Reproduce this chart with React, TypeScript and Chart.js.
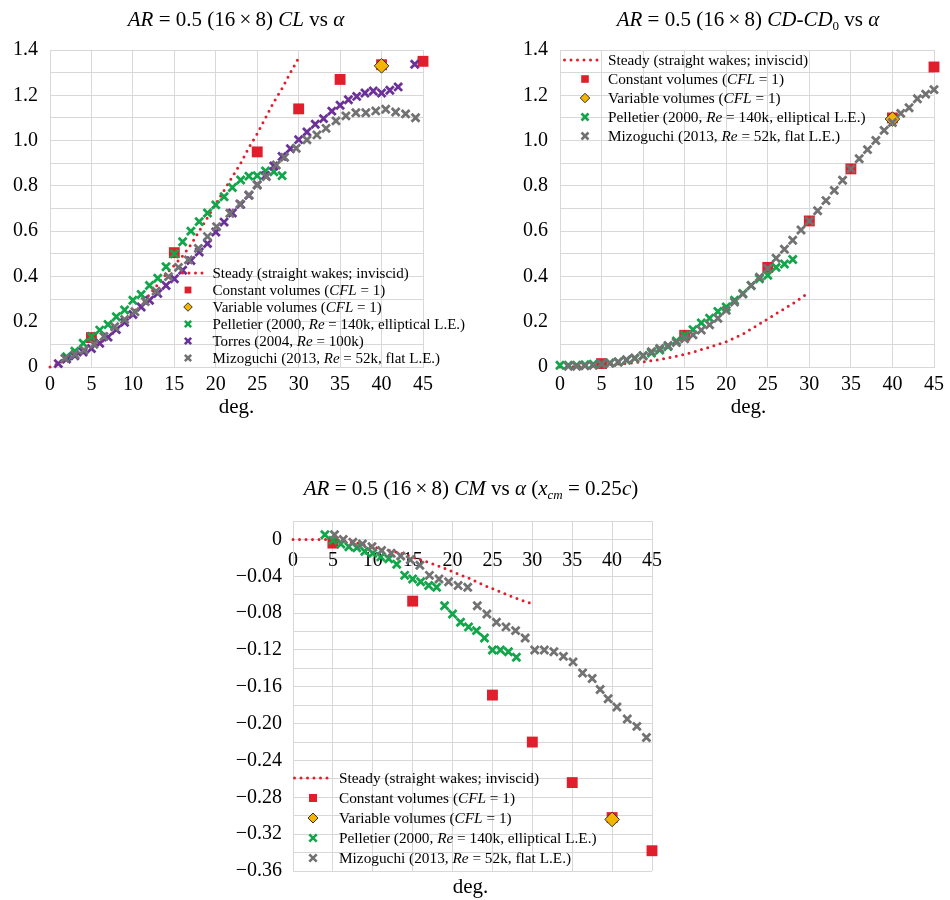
import React, { useEffect, useRef } from 'react';
import { Chart, registerables } from 'chart.js';
Chart.register(...registerables);

const FONT = '"Liberation Serif", "Times New Roman", Times, serif';
const RED = '#e11f2c';
const GREEN = '#12a64a';
const PURPLE = '#6b3198';
const GRAY = '#727272';
const YELLOW = '#f4b400';
const GRID = '#d8d8d8';

// ---------- shared x axis ----------
const X_TICK_VALS = [0, 5, 10, 15, 20, 25, 30, 35, 40, 45];
const X_TICK_TEXTS = ['0', '5', '10', '15', '20', '25', '30', '35', '40', '45'];

// ---------- CL vs alpha ----------
const CL_Y_VALS = [0, 0.2, 0.4, 0.6, 0.8, 1.0, 1.2, 1.4];
const CL_Y_TEXTS = ['0', '0.2', '0.4', '0.6', '0.8', '1.0', '1.2', '1.4'];
const CL_STEADY_A = [0, 1, 2, 3, 4, 5, 6, 7, 8, 9, 10, 11, 12, 13, 14, 15, 16, 17, 18, 19, 20, 21, 22, 23, 24, 25, 26, 27, 28, 29, 30];
const CL_STEADY = [0, 0.015, 0.03, 0.05, 0.065, 0.085, 0.105, 0.13, 0.165, 0.2, 0.24, 0.28, 0.32, 0.365, 0.41, 0.45, 0.49, 0.54, 0.6, 0.66, 0.72, 0.78, 0.84, 0.9, 0.97, 1.03, 1.1, 1.17, 1.23, 1.3, 1.365];
const CL_CONST_A = [5, 15, 25, 30, 35, 40, 45];
const CL_CONST = [0.13, 0.505, 0.95, 1.14, 1.27, 1.335, 1.35];
const CL_VAR_A = [40];
const CL_VAR = [1.33];
const CL_PELL_A = [2, 3, 4, 5, 6, 7, 8, 9, 10, 11, 12, 13, 14, 15, 16, 17, 18, 19, 20, 21, 22, 23, 24, 25, 26, 27, 28];
const CL_PELL = [0.045, 0.07, 0.105, 0.135, 0.163, 0.188, 0.222, 0.252, 0.295, 0.32, 0.36, 0.392, 0.443, 0.5, 0.553, 0.6, 0.642, 0.68, 0.716, 0.752, 0.793, 0.826, 0.843, 0.845, 0.866, 0.862, 0.845];
const CL_TORR_A = [1, 2, 3, 4, 5, 6, 7, 8, 9, 10, 11, 12, 13, 14, 15, 16, 17, 18, 19, 20, 21, 22, 23, 24, 25, 26, 27, 28, 29, 30, 31, 32, 33, 34, 35, 36, 37, 38, 39, 40, 41, 42, 44];
const CL_TORR = [0.015, 0.035, 0.05, 0.066, 0.082, 0.105, 0.132, 0.165, 0.197, 0.232, 0.265, 0.295, 0.325, 0.36, 0.39, 0.427, 0.47, 0.508, 0.545, 0.596, 0.64, 0.68, 0.718, 0.758, 0.805, 0.846, 0.888, 0.93, 0.964, 1.004, 1.038, 1.072, 1.097, 1.13, 1.156, 1.18, 1.195, 1.21, 1.219, 1.21, 1.222, 1.237, 1.337];
const CL_MIZO_A = [1.8, 3.0, 4.1, 5.3, 6.5, 7.8, 9.0, 10.25, 11.5, 12.8, 14.3, 15.5, 16.7, 17.9, 19.0, 20.1, 21.7, 22.9, 24.0, 25.0, 26.1, 27.3, 28.3, 29.7, 31.0, 32.2, 33.3, 34.5, 35.7, 36.9, 38.1, 39.3, 40.5, 41.7, 42.9, 44.1];
const CL_MIZO = [0.038, 0.055, 0.075, 0.1, 0.135, 0.178, 0.21, 0.244, 0.289, 0.335, 0.399, 0.44, 0.473, 0.524, 0.576, 0.62, 0.679, 0.72, 0.76, 0.804, 0.841, 0.892, 0.926, 0.966, 1.003, 1.025, 1.054, 1.087, 1.109, 1.123, 1.123, 1.131, 1.138, 1.126, 1.118, 1.101];

// ---------- CD-CD0 vs alpha ----------
const CD_Y_VALS = CL_Y_VALS;
const CD_Y_TEXTS = CL_Y_TEXTS;
const CD_STEADY_A = [0, 2, 4, 6, 8, 10, 12, 14, 16, 18, 20, 22, 24, 26, 28, 30];
const CD_STEADY = [0, 0.002, 0.005, 0.01, 0.016, 0.023, 0.033, 0.048, 0.065, 0.088, 0.112, 0.145, 0.19, 0.235, 0.28, 0.33];
const CD_CONST_A = [5, 15, 25, 30, 35, 40, 45];
const CD_CONST = [0.015, 0.14, 0.44, 0.645, 0.875, 1.1, 1.325];
const CD_VAR_A = [40];
const CD_VAR = [1.095];
const CD_PELL_A = [0, 1, 2, 3, 4, 5, 6, 7, 8, 9, 10, 11, 12, 13, 14, 15, 16, 17, 18, 19, 20, 21, 22, 23, 24, 25, 26, 27, 28];
const CD_PELL = [0.008, 0.008, 0.008, 0.01, 0.012, 0.015, 0.018, 0.022, 0.03, 0.038, 0.05, 0.062, 0.075, 0.09, 0.115, 0.14, 0.165, 0.195, 0.215, 0.245, 0.265, 0.295, 0.325, 0.36, 0.39, 0.405, 0.44, 0.455, 0.475];
const CD_MIZO_A = [1, 2, 3, 4, 5, 6, 7, 8, 9, 10, 11, 12, 13, 14, 15, 16, 17, 18, 19, 20, 21, 22, 23, 24, 25, 26, 27, 28, 29, 30, 31, 32, 33, 34, 35, 36, 37, 38, 39, 40, 41, 42, 43, 44, 45];
const CD_MIZO = [0.003, 0.003, 0.005, 0.007, 0.012, 0.016, 0.022, 0.032, 0.04, 0.05, 0.068, 0.082, 0.095, 0.108, 0.125, 0.142, 0.163, 0.186, 0.215, 0.25, 0.287, 0.322, 0.36, 0.397, 0.435, 0.48, 0.52, 0.56, 0.605, 0.645, 0.69, 0.735, 0.78, 0.825, 0.875, 0.92, 0.96, 1.0, 1.045, 1.08, 1.12, 1.145, 1.185, 1.205, 1.225];

// ---------- CM vs alpha ----------
const CM_Y_VALS = [0, -0.04, -0.08, -0.12, -0.16, -0.2, -0.24, -0.28, -0.32, -0.36];
const CM_Y_TEXTS = ['0', '\u22120.04', '\u22120.08', '\u22120.12', '\u22120.16', '\u22120.20', '\u22120.24', '\u22120.28', '\u22120.32', '\u22120.36'];
const CM_STEADY_A = [0, 2, 4, 6, 8, 10, 12, 14, 16, 18, 20, 22, 24, 26, 28, 30];
const CM_STEADY = [0, 0, 0, -0.001, -0.004, -0.008, -0.012, -0.016, -0.022, -0.028, -0.035, -0.042, -0.05, -0.057, -0.064, -0.07];
const CM_CONST_A = [5, 15, 25, 30, 35, 40, 45];
const CM_CONST = [-0.004, -0.067, -0.169, -0.22, -0.264, -0.302, -0.338];
const CM_VAR_A = [40];
const CM_VAR = [-0.304];
const CM_PELL_A = [4, 5, 6, 7, 8, 9, 10, 11, 12, 13, 14, 15, 16, 17, 18, 19, 20, 21, 22, 23, 24, 25, 26, 27, 28];
const CM_PELL = [0.005, -0.001, -0.005, -0.008, -0.009, -0.013, -0.015, -0.019, -0.021, -0.027, -0.039, -0.043, -0.046, -0.05, -0.052, -0.072, -0.081, -0.09, -0.095, -0.099, -0.107, -0.12, -0.12, -0.122, -0.128];
const CM_MIZO_A = [5.2, 6.3, 7.5, 8.7, 9.9, 11.1, 12.3, 13.5, 14.7, 15.9, 17.1, 18.3, 19.5, 20.7, 21.9, 23.1, 24.3, 25.5, 26.7, 27.9, 29.1, 30.3, 31.5, 32.7, 33.9, 35.1, 36.3, 37.5, 38.5, 39.5, 40.6, 41.9, 43.1, 44.3];
const CM_MIZO = [0.005, 0.0, -0.003, -0.005, -0.008, -0.012, -0.015, -0.018, -0.022, -0.028, -0.039, -0.043, -0.046, -0.05, -0.052, -0.072, -0.081, -0.09, -0.095, -0.099, -0.107, -0.12, -0.12, -0.122, -0.127, -0.133, -0.145, -0.151, -0.163, -0.173, -0.182, -0.195, -0.203, -0.215];

// ---------- helpers ----------
const pts = (xs: number[], ys: number[]) => xs.map((x, i) => ({ x, y: ys[i] }));
const labelFor = (v: number, vals: number[], texts: string[]) => {
  for (let i = 0; i < vals.length; i++) if (Math.abs(v - vals[i]) < 1e-6) return texts[i];
  return '';
};

const steadyDs = (d: any) => ({ data: d, showLine: true, borderColor: RED, borderWidth: 3, borderDash: [0, 6.5], borderCapStyle: 'round', pointRadius: 0, fill: false, clip: false, order: 6 });
const constDs = (d: any) => ({ data: d, pointStyle: 'rect', pointRadius: 7.7, backgroundColor: RED, borderColor: RED, borderWidth: 0, clip: false, order: 5 });
const varDs = (d: any) => ({ data: d, pointStyle: 'rectRot', pointRadius: 7.3, backgroundColor: YELLOW, borderColor: '#333', borderWidth: 1, clip: false, order: 4 });
const crossDs = (d: any, color: string, order: number) => ({ data: d, pointStyle: 'crossRot', pointRadius: 5.6, borderColor: color, backgroundColor: color, borderWidth: 2.8, clip: false, order });

function buildConfig(p: any) {
  return {
    type: 'scatter',
    data: { datasets: p.datasets },
    options: {
      responsive: false,
      animation: false,
      events: [],
      layout: { padding: p.padding, autoPadding: false },
      plugins: { legend: { display: false }, tooltip: { enabled: false }, title: { display: false } },
      scales: {
        x: {
          type: 'linear', min: 0, max: 45,
          position: p.xAtZero ? { y: 0 } : 'bottom',
          ticks: {
            stepSize: 5, autoSkip: false, maxRotation: 0, padding: p.xPad, color: '#000',
            font: { family: FONT, size: 20 },
            callback: (v: number) => labelFor(v, X_TICK_VALS, X_TICK_TEXTS),
          },
          grid: { color: GRID, lineWidth: 1, drawTicks: false },
          border: { color: GRID, width: 1 },
          afterFit: (s: any) => { s.height = p.xHeight; },
        },
        y: {
          type: 'linear', min: p.yMin, max: p.yMax,
          ticks: {
            stepSize: p.yStep, autoSkip: false, padding: p.yPad, color: '#000',
            font: { family: FONT, size: 20 },
            callback: (v: number) => labelFor(v, p.yVals, p.yTexts),
          },
          grid: { color: GRID, lineWidth: 1, drawTicks: false },
          border: { color: GRID, width: 1 },
          afterFit: (s: any) => { s.width = p.yWidth; },
        },
      },
    },
  };
}

function ChartBox({ left, top, width, height, make }: any) {
  const ref = useRef<HTMLCanvasElement>(null);
  useEffect(() => {
    const c = new Chart(ref.current as HTMLCanvasElement, make());
    return () => c.destroy();
  }, []);
  return <canvas ref={ref} width={width} height={height} style={{ position: 'absolute', left, top, width, height }} />;
}

type Seg = string | { i: string } | { sub: string } | { isub: string };
function Rich({ segs }: { segs: Seg[] }) {
  return (
    <>
      {segs.map((s, k) => {
        if (typeof s === 'string') return <span key={k}>{s}</span>;
        if ('i' in s) return <i key={k}>{s.i}</i>;
        if ('sub' in s) return <span key={k} style={{ fontSize: '0.62em', position: 'relative', top: '0.3em' }}>{s.sub}</span>;
        return <i key={k} style={{ fontSize: '0.62em', position: 'relative', top: '0.3em' }}>{s.isub}</i>;
      })}
    </>
  );
}

function TextAt({ cx, cy, fs, segs }: any) {
  return (
    <div style={{ position: 'absolute', left: cx - 250, width: 500, top: cy - fs * 0.62, fontSize: fs, lineHeight: fs * 1.2 + 'px', textAlign: 'center', whiteSpace: 'nowrap', color: '#000' }}>
      <Rich segs={segs} />
    </div>
  );
}

const TITLE_CL: Seg[] = [{ i: 'AR' }, ' = 0.5 (16\u2009\u00d7\u20098) ', { i: 'CL' }, ' vs ', { i: '\u03b1' }];
const TITLE_CD: Seg[] = [{ i: 'AR' }, ' = 0.5 (16\u2009\u00d7\u20098) ', { i: 'CD' }, '-', { i: 'CD' }, { sub: '0' }, ' vs ', { i: '\u03b1' }];
const TITLE_CM: Seg[] = [{ i: 'AR' }, ' = 0.5 (16\u2009\u00d7\u20098) ', { i: 'CM' }, ' vs ', { i: '\u03b1' }, ' (', { i: 'x' }, { isub: 'cm' }, ' = 0.25', { i: 'c' }, ')'];
const X_TITLE: Seg[] = ['deg.'];

const LEG_STEADY: Seg[] = ['Steady (straight wakes; inviscid)'];
const LEG_CONST: Seg[] = ['Constant volumes (', { i: 'CFL' }, ' = 1)'];
const LEG_VAR: Seg[] = ['Variable volumes (', { i: 'CFL' }, ' = 1)'];
const LEG_PELL: Seg[] = ['Pelletier (2000, ', { i: 'Re' }, ' = 140k, elliptical L.E.)'];
const LEG_TORR: Seg[] = ['Torres (2004, ', { i: 'Re' }, ' = 100k)'];
const LEG_MIZO: Seg[] = ['Mizoguchi (2013, ', { i: 'Re' }, ' = 52k, flat L.E.)'];

function Marker({ kind, color, s }: any) {
  const c = 10;
  if (kind === 'square') return <rect x={c - 4 * s} y={c - 4 * s} width={8 * s} height={8 * s} fill={RED} />;
  if (kind === 'diamond') return <polygon points={`${c},${c - 5 * s} ${c + 5 * s},${c} ${c},${c + 5 * s} ${c - 5 * s},${c}`} fill={YELLOW} stroke="#333" strokeWidth={1} />;
  const a = 3.7 * s;
  return (
    <g stroke={color} strokeWidth={2.6} strokeLinecap="butt">
      <line x1={c - a} y1={c - a} x2={c + a} y2={c + a} />
      <line x1={c - a} y1={c + a} x2={c + a} y2={c - a} />
    </g>
  );
}

function Legend({ items, markerX, lineX1, lineX2, textX, y0, dy, fs, s }: any) {
  return (
    <>
      {items.map((it: any, i: number) => {
        const cy = y0 + i * dy;
        return (
          <React.Fragment key={i}>
            {it.kind === 'line' ? (
              <svg style={{ position: 'absolute', left: lineX1, top: cy - 5, overflow: 'visible' }} width={lineX2 - lineX1} height={10}>
                <line x1={1.5} y1={5} x2={lineX2 - lineX1} y2={5} stroke={RED} strokeWidth={3} strokeDasharray="0 6.5" strokeLinecap="round" />
              </svg>
            ) : (
              <svg style={{ position: 'absolute', left: markerX - 10, top: cy - 10, overflow: 'visible' }} width={20} height={20}>
                <Marker kind={it.kind} color={it.color} s={s} />
              </svg>
            )}
            <div style={{ position: 'absolute', left: textX, top: cy - fs * 0.62, fontSize: fs, lineHeight: fs * 1.2 + 'px', whiteSpace: 'nowrap', color: '#000' }}>
              <Rich segs={it.label} />
            </div>
          </React.Fragment>
        );
      })}
    </>
  );
}

const ITEMS_CL = [
  { kind: 'line', label: LEG_STEADY },
  { kind: 'square', label: LEG_CONST },
  { kind: 'diamond', label: LEG_VAR },
  { kind: 'cross', color: GREEN, label: LEG_PELL },
  { kind: 'cross', color: PURPLE, label: LEG_TORR },
  { kind: 'cross', color: GRAY, label: LEG_MIZO },
];
const ITEMS_3 = [
  { kind: 'line', label: LEG_STEADY },
  { kind: 'square', label: LEG_CONST },
  { kind: 'diamond', label: LEG_VAR },
  { kind: 'cross', color: GREEN, label: LEG_PELL },
  { kind: 'cross', color: GRAY, label: LEG_MIZO },
];

const makeCL = () => buildConfig({
  datasets: [
    steadyDs(pts(CL_STEADY_A, CL_STEADY)),
    constDs(pts(CL_CONST_A, CL_CONST)),
    varDs(pts(CL_VAR_A, CL_VAR)),
    crossDs(pts(CL_PELL_A, CL_PELL), GREEN, 3),
    crossDs(pts(CL_TORR_A, CL_TORR), PURPLE, 2),
    crossDs(pts(CL_MIZO_A, CL_MIZO), GRAY, 1),
  ],
  yMin: 0, yMax: 1.4, yStep: 0.1, yVals: CL_Y_VALS, yTexts: CL_Y_TEXTS,
  padding: { left: 0, top: 50, right: 47, bottom: 23 }, yWidth: 50, yPad: 12, xHeight: 30, xPad: 6, xAtZero: false,
});

const makeCD = () => buildConfig({
  datasets: [
    steadyDs(pts(CD_STEADY_A, CD_STEADY)),
    constDs(pts(CD_CONST_A, CD_CONST)),
    varDs(pts(CD_VAR_A, CD_VAR)),
    crossDs(pts(CD_PELL_A, CD_PELL), GREEN, 3),
    crossDs(pts(CD_MIZO_A, CD_MIZO), GRAY, 1),
  ],
  yMin: 0, yMax: 1.4, yStep: 0.1, yVals: CD_Y_VALS, yTexts: CD_Y_TEXTS,
  padding: { left: 0, top: 50, right: 13, bottom: 23 }, yWidth: 80, yPad: 12, xHeight: 30, xPad: 6, xAtZero: false,
});

const makeCM = () => buildConfig({
  datasets: [
    steadyDs(pts(CM_STEADY_A, CM_STEADY)),
    constDs(pts(CM_CONST_A, CM_CONST)),
    varDs(pts(CM_VAR_A, CM_VAR)),
    crossDs(pts(CM_PELL_A, CM_PELL), GREEN, 3),
    crossDs(pts(CM_MIZO_A, CM_MIZO), GRAY, 1),
  ],
  yMin: -0.36, yMax: 0.02, yStep: 0.02, yVals: CM_Y_VALS, yTexts: CM_Y_TEXTS,
  padding: { left: 0, top: 61, right: 28, bottom: 29 }, yWidth: 93, yPad: 11, xHeight: 0, xPad: 9, xAtZero: true,
});

export default function App() {
  return (
    <div style={{ position: 'absolute', left: 0, top: 0, width: 950, height: 900, background: '#fff', fontFamily: FONT, overflow: 'hidden' }}>
      <ChartBox left={0} top={0} width={470} height={420} make={makeCL} />
      <ChartBox left={480} top={0} width={470} height={420} make={makeCD} />
      <ChartBox left={200} top={460} width={480} height={440} make={makeCM} />

      <TextAt cx={236} cy={20} fs={21} segs={TITLE_CL} />
      <TextAt cx={748} cy={20} fs={21} segs={TITLE_CD} />
      <TextAt cx={471} cy={489} fs={21} segs={TITLE_CM} />

      <TextAt cx={236.5} cy={407} fs={21} segs={X_TITLE} />
      <TextAt cx={748.5} cy={407} fs={21} segs={X_TITLE} />
      <TextAt cx={470.5} cy={887} fs={21} segs={X_TITLE} />

      <Legend items={ITEMS_CL} markerX={188} lineX1={181} lineX2={208} textX={212.5} y0={273.3} dy={17} fs={15} s={0.85} />
      <Legend items={ITEMS_3} markerX={585} lineX1={563} lineX2={602} textX={608} y0={60} dy={19} fs={15.3} s={0.95} />
      <Legend items={ITEMS_3} markerX={313} lineX1={293} lineX2={332} textX={339} y0={778.3} dy={20} fs={15.3} s={1.0} />
    </div>
  );
}
